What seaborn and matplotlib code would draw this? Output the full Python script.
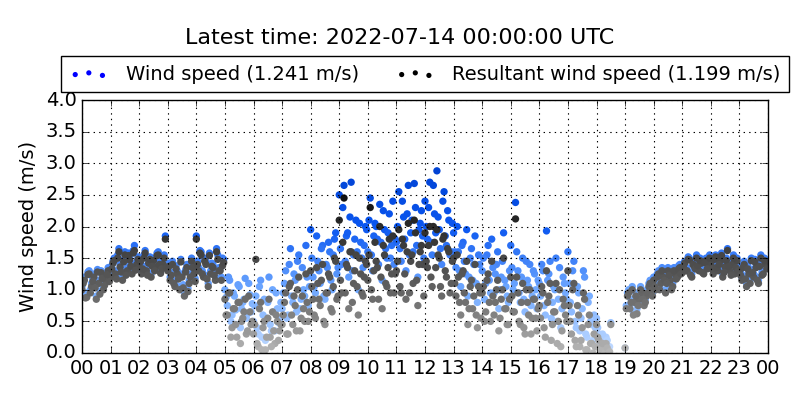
import numpy as np
import pandas as pd
import matplotlib
matplotlib.use("Agg")
import matplotlib.pyplot as plt
import seaborn as sns
from matplotlib.colors import LinearSegmentedColormap

nan = np.nan

# readings on the 5-minute mark, one row per hour (00 .. 23)
wind_speed = [
    [1.05, 1.20, 0.95, 1.30, 1.10, 1.25, 0.90, 1.15, 1.30, 1.05, 1.20, 1.35],
    [1.25, 1.45, 1.30, 1.55, 1.40, 1.20, 1.60, 1.35, 1.50, 1.30, 1.70, 1.45],
    [1.40, 1.30, 1.55, 1.35, 1.45, 1.25, 1.50, 1.40, 1.60, 1.30, 1.45, 1.85],
    [1.35, 1.20, 1.45, 1.10, 1.30, 1.05, 1.25, 0.95, 1.40, 1.15, 1.50, 1.30],
    [1.85, 1.35, 1.60, 1.25, 1.45, 1.10, 1.30, 1.40, 1.20, 1.55, 1.35, 1.50],
    [1.00, 0.75, 1.15, 0.60, 0.90, 0.45, 1.05, 0.70, 0.85, 0.55, 1.10, 0.65],
    [0.50, 0.90, 0.30, 1.15, 0.60, 0.20, 0.80, 0.45, 1.00, 0.35, 0.70, 0.55],
    [0.70, 1.10, 0.55, 1.40, 0.90, 1.25, 0.65, 1.55, 0.85, 1.00, 1.70, 0.75],
    [1.95, 1.20, 0.95, 1.45, 1.10, 1.70, 0.85, 1.35, 1.60, 1.00, 1.80, 1.25],
    [2.50, 1.40, 2.65, 1.85, 1.20, 2.70, 1.55, 2.10, 1.00, 1.75, 1.35, 2.00],
    [1.60, 2.45, 1.30, 2.05, 1.80, 2.35, 1.15, 1.95, 1.50, 2.20, 1.70, 1.40],
    [1.75, 2.55, 1.45, 2.15, 1.30, 2.65, 1.90, 1.60, 2.30, 1.20, 2.05, 1.85],
    [2.40, 1.80, 2.70, 1.55, 2.20, 2.88, 1.95, 1.40, 2.55, 1.70, 2.10, 1.60],
    [1.90, 1.35, 1.60, 1.05, 1.75, 1.25, 0.90, 1.50, 1.15, 1.85, 0.80, 1.40],
    [1.30, 0.85, 1.55, 1.15, 1.80, 0.95, 1.40, 0.70, 1.20, 1.90, 1.05, 0.80],
    [1.70, 1.00, 2.38, 1.30, 0.80, 1.50, 0.65, 1.15, 1.40, 0.90, 1.25, 0.70],
    [1.10, 1.40, 0.75, 1.93, 1.25, 0.55, 1.05, 1.50, 0.85, 0.40, 1.20, 0.95],
    [1.60, 0.80, 1.30, 0.50, 1.05, 0.35, 0.70, 1.20, 0.25, 0.90, 0.45, 0.60],
    [0.55, 0.30, 0.20, 0.10, 0.25, 0.05, 0.48, nan, nan, nan, nan, nan],
    [0.08, 0.95, 0.75, 1.05, 0.85, 0.70, 0.90, 1.00, 0.80, 0.95, 1.10, 1.05],
    [1.20, 1.05, 1.30, 1.15, 1.25, 1.00, 1.35, 1.20, 1.10, 1.30, 1.25, 1.40],
    [1.30, 1.45, 1.35, 1.50, 1.25, 1.40, 1.55, 1.35, 1.45, 1.30, 1.50, 1.40],
    [1.45, 1.30, 1.55, 1.35, 1.50, 1.25, 1.40, 1.65, 1.35, 1.45, 1.30, 1.50],
    [1.35, 1.20, 1.45, 1.10, 1.30, 1.50, 1.25, 1.40, 1.15, 1.55, 1.30, 1.45],
]

# readings 2.5 minutes after each mark
wind_speed_half = [
    [1.15, 0.92, 1.28, 1.00, 1.18, 1.08, 1.32, 0.98, 1.22, 1.12, 1.28, 1.18],
    [1.38, 1.50, 1.22, 1.65, 1.32, 1.48, 1.28, 1.58, 1.42, 1.62, 1.36, 1.52],
    [1.48, 1.38, 1.62, 1.28, 1.52, 1.42, 1.35, 1.58, 1.45, 1.38, 1.55, 1.40],
    [1.42, 1.28, 1.15, 1.38, 1.22, 1.48, 1.08, 1.32, 1.02, 1.25, 1.40, 1.18],
    [1.45, 1.62, 1.30, 1.50, 1.22, 1.58, 1.42, 1.28, 1.65, 1.35, 1.20, 1.48],
    [0.88, 1.20, 0.50, 0.95, 0.68, 1.08, 0.40, 0.80, 1.18, 0.62, 0.92, 0.78],
    [0.75, 0.40, 1.05, 0.25, 0.85, 0.55, 1.20, 0.35, 0.65, 0.95, 0.48, 0.80],
    [0.95, 1.30, 0.60, 1.65, 0.80, 1.15, 1.45, 0.70, 1.35, 0.90, 1.20, 1.05],
    [1.50, 1.05, 1.85, 1.30, 1.65, 0.90, 1.40, 1.75, 1.15, 1.55, 1.90, 1.35],
    [1.65, 2.30, 1.45, 1.90, 2.15, 1.30, 1.80, 1.60, 2.05, 1.50, 1.70, 1.95],
    [2.10, 1.55, 1.85, 2.00, 1.40, 1.75, 2.25, 1.65, 1.90, 1.50, 2.40, 1.80],
    [2.00, 1.65, 2.40, 1.80, 2.20, 1.55, 2.10, 2.68, 1.70, 1.95, 2.25, 1.50],
    [2.00, 2.30, 1.75, 2.65, 1.90, 2.15, 1.65, 2.40, 1.85, 2.25, 1.55, 2.05],
    [1.60, 2.00, 1.30, 1.70, 1.45, 1.95, 1.20, 1.65, 1.40, 1.10, 1.55, 1.00],
    [1.50, 1.10, 1.70, 0.95, 1.35, 1.25, 1.60, 1.00, 1.45, 1.15, 0.90, 1.30],
    [1.35, 1.10, 1.60, 0.95, 1.20, 0.85, 1.45, 1.05, 0.75, 1.30, 1.00, 1.15],
    [0.90, 1.30, 0.60, 1.15, 1.45, 0.80, 1.00, 0.50, 1.35, 0.70, 1.10, 0.85],
    [1.10, 0.65, 1.45, 0.40, 0.95, 0.55, 1.30, 0.30, 0.80, 0.50, 0.20, 0.40],
    [0.40, 0.15, 0.30, 0.05, 0.20, 0.10, nan, nan, nan, nan, nan, nan],
    [0.75, 1.00, 0.85, 0.65, 0.95, 0.80, 1.05, 0.90, 0.85, 1.00, 1.15, 0.95],
    [1.10, 1.25, 1.05, 1.35, 1.20, 1.15, 1.28, 1.05, 1.35, 1.22, 1.38, 1.30],
    [1.40, 1.35, 1.52, 1.28, 1.45, 1.38, 1.42, 1.50, 1.32, 1.48, 1.38, 1.55],
    [1.38, 1.52, 1.40, 1.45, 1.58, 1.32, 1.50, 1.42, 1.28, 1.55, 1.40, 1.35],
    [1.28, 1.40, 1.22, 1.38, 1.15, 1.32, 1.48, 1.20, 1.42, 1.28, 1.50, 1.38],
]

resultant_speed = [
    [1.00, 1.15, 0.88, 1.25, 1.05, 1.20, 0.85, 1.10, 1.27, 1.00, 1.15, 1.30],
    [1.20, 1.42, 1.25, 1.50, 1.36, 1.15, 1.55, 1.30, 1.47, 1.25, 1.62, 1.40],
    [1.36, 1.25, 1.50, 1.30, 1.42, 1.20, 1.46, 1.36, 1.55, 1.26, 1.40, 1.80],
    [1.30, 1.15, 1.40, 1.05, 1.25, 1.00, 1.20, 0.90, 1.35, 1.10, 1.45, 1.25],
    [1.80, 1.30, 1.55, 1.20, 1.40, 1.05, 1.25, 1.35, 1.15, 1.48, 1.30, 1.38],
    [0.85, 0.60, 0.95, 0.40, 0.70, 0.25, 0.80, 0.50, 0.65, 0.30, 0.90, 0.45],
    [0.30, 1.48, 0.10, 0.80, 0.40, 0.05, 0.55, 0.25, 0.65, 0.15, 0.50, 0.35],
    [0.45, 0.80, 0.30, 1.05, 0.60, 0.90, 0.35, 1.20, 0.55, 0.70, 1.25, 0.50],
    [1.30, 0.85, 0.55, 1.10, 0.75, 1.40, 0.45, 0.95, 1.20, 0.65, 1.50, 0.85],
    [2.10, 0.95, 2.45, 1.40, 0.70, 1.60, 1.10, 1.55, 0.60, 1.25, 0.90, 1.45],
    [1.15, 2.30, 0.85, 1.75, 1.35, 2.00, 0.70, 1.55, 1.05, 1.80, 1.25, 0.95],
    [1.30, 1.95, 0.95, 1.70, 0.85, 2.05, 1.45, 1.10, 1.90, 0.75, 1.60, 1.40],
    [1.90, 1.35, 2.00, 1.05, 1.75, 1.95, 1.50, 0.90, 1.85, 1.20, 1.60, 1.10],
    [1.50, 0.90, 1.20, 0.60, 1.30, 0.80, 0.45, 1.05, 0.70, 1.40, 0.40, 0.95],
    [0.95, 0.50, 1.15, 0.80, 1.45, 0.60, 1.00, 0.35, 0.85, 1.50, 0.70, 0.45],
    [1.20, 0.65, 2.12, 0.95, 0.45, 1.10, 0.30, 0.80, 1.00, 0.55, 0.85, 0.35],
    [0.75, 1.05, 0.40, 1.30, 0.90, 0.20, 0.65, 1.10, 0.50, 0.10, 0.85, 0.60],
    [1.30, 0.50, 1.00, 0.20, 0.75, 0.10, 0.40, 0.85, 0.05, 0.60, 0.15, 0.30],
    [0.45, 0.20, 0.10, 0.03, 0.15, 0.00, 0.45, nan, nan, nan, nan, nan],
    [0.08, 0.90, 0.70, 1.00, 0.80, 0.62, 0.85, 0.95, 0.75, 0.90, 1.05, 1.00],
    [1.15, 1.00, 1.25, 1.10, 1.20, 0.95, 1.30, 1.15, 1.05, 1.25, 1.20, 1.35],
    [1.27, 1.42, 1.30, 1.47, 1.20, 1.37, 1.50, 1.30, 1.42, 1.25, 1.46, 1.36],
    [1.40, 1.25, 1.52, 1.30, 1.46, 1.20, 1.36, 1.62, 1.30, 1.40, 1.25, 1.46],
    [1.30, 1.15, 1.40, 1.05, 1.25, 1.46, 1.20, 1.35, 1.10, 1.50, 1.25, 1.40],
]

resultant_speed_half = [
    [1.10, 0.87, 1.24, 0.95, 1.13, 1.03, 1.28, 0.93, 1.18, 1.07, 1.24, 1.13],
    [1.33, 1.46, 1.17, 1.60, 1.28, 1.44, 1.23, 1.54, 1.37, 1.58, 1.31, 1.48],
    [1.44, 1.33, 1.58, 1.23, 1.48, 1.37, 1.30, 1.54, 1.40, 1.33, 1.50, 1.35],
    [1.37, 1.23, 1.10, 1.33, 1.17, 1.44, 1.03, 1.28, 0.97, 1.20, 1.35, 1.13],
    [1.40, 1.58, 1.25, 1.45, 1.17, 1.54, 1.37, 1.23, 1.60, 1.30, 1.15, 1.43],
    [0.60, 0.95, 0.25, 0.70, 0.45, 0.80, 0.15, 0.55, 0.85, 0.35, 0.65, 0.50],
    [0.45, 0.15, 0.70, 0.05, 0.50, 0.25, 0.85, 0.10, 0.35, 0.60, 0.20, 0.45],
    [0.60, 0.95, 0.30, 1.10, 0.45, 0.75, 1.00, 0.35, 0.90, 0.50, 0.80, 0.65],
    [1.05, 0.60, 1.35, 0.85, 1.15, 0.50, 0.95, 1.25, 0.70, 1.05, 1.45, 0.90],
    [1.15, 1.75, 0.95, 1.35, 1.60, 0.80, 1.30, 1.05, 1.50, 0.95, 1.20, 1.40],
    [1.55, 1.00, 1.30, 1.45, 0.85, 1.20, 1.70, 1.10, 1.35, 0.95, 1.85, 1.25],
    [1.45, 1.05, 1.80, 1.25, 1.60, 0.95, 1.55, 2.10, 1.15, 1.40, 1.70, 0.90],
    [1.45, 1.70, 1.20, 2.00, 1.35, 1.55, 1.05, 1.80, 1.30, 1.65, 0.95, 1.45],
    [1.10, 1.55, 0.80, 1.25, 0.95, 1.45, 0.70, 1.15, 0.90, 0.60, 1.05, 0.55],
    [1.05, 0.65, 1.25, 0.50, 0.90, 0.80, 1.15, 0.55, 1.00, 0.70, 0.45, 0.85],
    [0.90, 0.65, 1.20, 0.50, 0.80, 0.40, 1.00, 0.60, 0.30, 0.85, 0.55, 0.70],
    [0.55, 0.95, 0.25, 0.80, 1.10, 0.45, 0.65, 0.15, 1.00, 0.35, 0.75, 0.50],
    [0.75, 0.30, 1.10, 0.10, 0.60, 0.20, 0.95, 0.05, 0.45, 0.15, 0.00, 0.10],
    [0.25, 0.05, 0.15, 0.00, 0.08, 0.02, nan, nan, nan, nan, nan, nan],
    [0.70, 0.95, 0.80, 0.60, 0.90, 0.75, 1.00, 0.85, 0.80, 0.95, 1.10, 0.90],
    [1.05, 1.20, 1.00, 1.30, 1.15, 1.10, 1.23, 1.00, 1.30, 1.17, 1.33, 1.25],
    [1.36, 1.30, 1.48, 1.23, 1.40, 1.33, 1.38, 1.46, 1.27, 1.43, 1.33, 1.50],
    [1.33, 1.48, 1.35, 1.40, 1.54, 1.27, 1.46, 1.37, 1.23, 1.50, 1.35, 1.30],
    [1.23, 1.35, 1.17, 1.33, 1.10, 1.27, 1.44, 1.15, 1.37, 1.23, 1.46, 1.33],
]

hour_labels = ["%02d" % (h % 24) for h in range(25)]

t_full = pd.date_range("2022-07-13 00:00:00", periods=288, freq="5min")
t_half = pd.date_range("2022-07-13 00:02:30", periods=288, freq="5min")
start = pd.Timestamp("2022-07-13 00:00:00")

df = pd.DataFrame({
    "hours": np.concatenate([(t_full - start).total_seconds(),
                             (t_half - start).total_seconds()]) / 3600.0,
    "ws": np.concatenate([np.ravel(wind_speed), np.ravel(wind_speed_half)]),
    "rs": np.concatenate([np.ravel(resultant_speed), np.ravel(resultant_speed_half)]),
})

plt.style.use("classic")
plt.rcParams["figure.facecolor"] = "white"
plt.rcParams["savefig.facecolor"] = "white"
plt.rcParams["font.family"] = ["DejaVu Sans"]

blue_map = LinearSegmentedColormap.from_list("blues", ["#c4dcff", "#6fa8ff", "#0a56f0", "#0040d0"])
grey_map = LinearSegmentedColormap.from_list("greys", ["#b8b8b8", "#6a6a6a", "#3a3a3a", "#0a0a0a"])

fig = plt.figure(figsize=(8, 4), dpi=100)
ax = fig.add_axes([0.1025, 0.1175, 0.8575, 0.6325])

sns.scatterplot(data=df, x="hours", y="ws", hue="ws", palette=blue_map,
                hue_norm=(0, 3.0), s=28, edgecolor="none", legend=False, ax=ax)
sns.scatterplot(data=df, x="hours", y="rs", hue="rs", palette=grey_map,
                hue_norm=(0, 2.6), s=28, edgecolor="none", legend=False, ax=ax)

ax.set_xlim(0, 24)
ax.set_ylim(0, 4.0)
ax.set_xticks(range(25))
ax.set_xticklabels(hour_labels)
ax.set_yticks(np.arange(0, 4.01, 0.5))
ax.tick_params(labelsize=14)
ax.set_xlabel("")
ax.set_ylabel("Wind speed (m/s)", fontsize=14)
ax.grid(True, color="black", linestyle=":", linewidth=0.8)

h1 = ax.scatter([], [], color="blue", s=14, edgecolor="none")
h2 = ax.scatter([], [], color="black", s=14, edgecolor="none")
ax.legend([h1, h2], ["Wind speed (1.241 m/s)", "Resultant wind speed (1.199 m/s)"],
          loc="lower center", bbox_to_anchor=(0.5, 1.03), ncol=2, scatterpoints=3,
          fontsize=14, fancybox=False, borderaxespad=0, columnspacing=1.9,
          handletextpad=0.9, borderpad=0.45)

fig.suptitle("Latest time: 2022-07-14 00:00:00 UTC", fontsize=16, y=0.93)

fig.savefig("out.png", dpi=100)
